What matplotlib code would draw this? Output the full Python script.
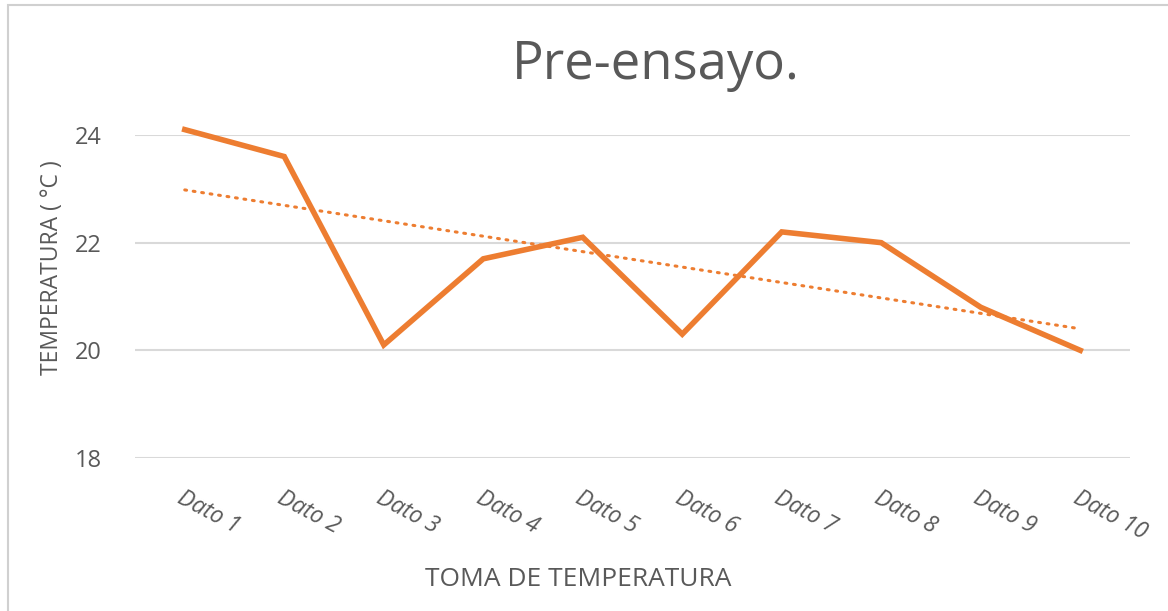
import matplotlib.pyplot as plt
import numpy as np
from matplotlib.patches import Rectangle

plt.rcParams['font.family'] = ['Open Sans', 'DejaVu Sans']

# datos
categorias = ['Dato 1', 'Dato 2', 'Dato 3', 'Dato 4', 'Dato 5',
              'Dato 6', 'Dato 7', 'Dato 8', 'Dato 9', 'Dato 10']
temperaturas = [24.1, 23.6, 20.1, 21.7, 22.1, 20.3, 22.2, 22.0, 20.8, 20.0]
ticks_y = [18, 20, 22, 24]

naranja = '#ED7D31'
gris = '#595959'

fig = plt.figure(figsize=(11.68, 6.11), dpi=100)
ax = fig.add_axes([135 / 1168, 1 - 458 / 611, (1130 - 135) / 1168, (458 - 135) / 611])

x = np.arange(1, len(categorias) + 1)
ax.plot(x, temperaturas, color=naranja, linewidth=4.0, clip_on=False,
        solid_joinstyle='miter', zorder=3)

# linea de tendencia lineal
m, b = np.polyfit(x, temperaturas, 1)
ax.plot(x, m * x + b, color=naranja, linewidth=2.2, linestyle=(0, (0.6, 2.2)),
        dash_capstyle='round', zorder=2)

ax.set_xlim(0.5, len(categorias) + 0.5)
ax.set_ylim(18, 24)
ax.set_yticks(ticks_y)
ax.set_xticks(x)
ax.set_xticklabels(categorias, rotation=-28, ha='left', rotation_mode='anchor',
                   style='italic', fontsize=16.5, color=gris)
ax.tick_params(axis='y', length=0, labelsize=17, labelcolor=gris, pad=24)
ax.tick_params(axis='x', length=0, pad=20)
ax.grid(axis='y', color='#D9D9D9', linewidth=1.5)
ax.set_axisbelow(True)
for s in ax.spines.values():
    s.set_visible(False)

fig.text(52 / 1168, 1 - 268 / 611, 'TEMPERATURA ( °C )', fontsize=16.5,
         color=gris, rotation=90, ha='center', va='center')
fig.text(578 / 1168, 1 - 580 / 611, 'TOMA DE TEMPERATURA', fontsize=19,
         color=gris, ha='center', va='center')
fig.text(656 / 1168, 1 - 65 / 611, 'Pre-ensayo.', fontsize=38,
         color=gris, ha='center', va='center')

# marco del grafico
fig.patches.append(Rectangle((8 / 1168, -0.05), 1.5, 1 - 5 / 611 + 0.05,
                             transform=fig.transFigure, fill=False,
                             edgecolor='#D0D0D0', linewidth=1.5))

plt.savefig('out.png', dpi=100)
